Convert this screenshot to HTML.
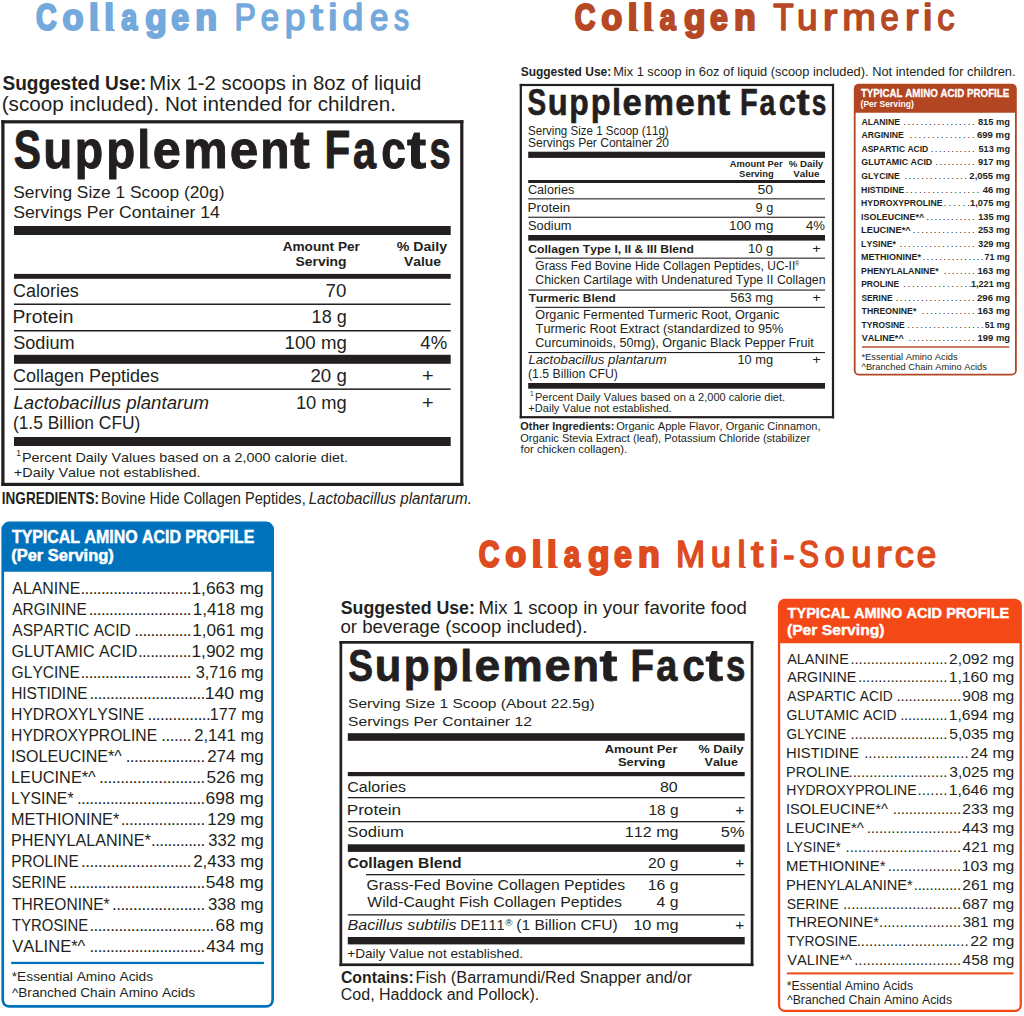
<!DOCTYPE html>
<html><head><meta charset="utf-8"><title>Collagen Supplement Facts</title>
<style>
html,body{margin:0;padding:0;background:#fff;}
body{width:1024px;height:1016px;overflow:hidden;}
svg{display:block;font-family:"Liberation Sans",sans-serif;font-kerning:none;}
</style></head><body>
<svg width="1024" height="1016" viewBox="0 0 1024 1016" fill="#231f20">
<text x="35.93" y="30.10" font-size="36.50" textLength="20.66" lengthAdjust="spacingAndGlyphs" fill="#74a9dc" stroke="#74a9dc" stroke-width="2.20" stroke-linejoin="round" font-weight="bold">C</text>
<text x="62.46" y="30.10" font-size="36.50" textLength="20.98" lengthAdjust="spacingAndGlyphs" fill="#74a9dc" stroke="#74a9dc" stroke-width="2.20" stroke-linejoin="round" font-weight="bold">o</text>
<text x="89.06" y="30.10" font-size="36.50" textLength="9.72" lengthAdjust="spacingAndGlyphs" fill="#74a9dc" stroke="#74a9dc" stroke-width="2.20" stroke-linejoin="round" font-weight="bold">l</text>
<text x="104.36" y="30.10" font-size="36.50" textLength="9.72" lengthAdjust="spacingAndGlyphs" fill="#74a9dc" stroke="#74a9dc" stroke-width="2.20" stroke-linejoin="round" font-weight="bold">l</text>
<text x="121.16" y="30.10" font-size="36.50" textLength="15.96" lengthAdjust="spacingAndGlyphs" fill="#74a9dc" stroke="#74a9dc" stroke-width="2.20" stroke-linejoin="round" font-weight="bold">a</text>
<text x="145.26" y="30.10" font-size="36.50" textLength="21.50" lengthAdjust="spacingAndGlyphs" fill="#74a9dc" stroke="#74a9dc" stroke-width="2.20" stroke-linejoin="round" font-weight="bold">g</text>
<text x="171.25" y="30.10" font-size="36.50" textLength="17.85" lengthAdjust="spacingAndGlyphs" fill="#74a9dc" stroke="#74a9dc" stroke-width="2.20" stroke-linejoin="round" font-weight="bold">e</text>
<text x="195.35" y="30.10" font-size="36.50" textLength="21.76" lengthAdjust="spacingAndGlyphs" fill="#74a9dc" stroke="#74a9dc" stroke-width="2.20" stroke-linejoin="round" font-weight="bold">n</text>
<path d="M96.80 26.50 Q97.40 29.88 99.80 29.65 L99.80 31.00 L96.80 31.00 Z" fill="#74a9dc"/>
<path d="M112.10 26.50 Q112.70 29.88 115.00 29.65 L115.00 31.00 L112.10 31.00 Z" fill="#74a9dc"/>
<text x="234.48" y="30.10" font-size="37.40" textLength="21.30" lengthAdjust="spacingAndGlyphs" fill="#74a9dc" stroke="#74a9dc" stroke-width="1.60" stroke-linejoin="round">P</text>
<text x="260.71" y="30.10" font-size="37.40" textLength="18.25" lengthAdjust="spacingAndGlyphs" fill="#74a9dc" stroke="#74a9dc" stroke-width="1.60" stroke-linejoin="round">e</text>
<text x="284.81" y="30.10" font-size="37.40" textLength="20.65" lengthAdjust="spacingAndGlyphs" fill="#74a9dc" stroke="#74a9dc" stroke-width="1.60" stroke-linejoin="round">p</text>
<text x="310.42" y="30.10" font-size="37.40" textLength="12.40" lengthAdjust="spacingAndGlyphs" fill="#74a9dc" stroke="#74a9dc" stroke-width="1.60" stroke-linejoin="round">t</text>
<text x="328.01" y="30.10" font-size="37.40" textLength="9.61" lengthAdjust="spacingAndGlyphs" fill="#74a9dc" stroke="#74a9dc" stroke-width="1.60" stroke-linejoin="round">i</text>
<text x="342.53" y="30.10" font-size="37.40" textLength="20.78" lengthAdjust="spacingAndGlyphs" fill="#74a9dc" stroke="#74a9dc" stroke-width="1.60" stroke-linejoin="round">d</text>
<text x="370.10" y="30.10" font-size="37.40" textLength="18.37" lengthAdjust="spacingAndGlyphs" fill="#74a9dc" stroke="#74a9dc" stroke-width="1.60" stroke-linejoin="round">e</text>
<text x="394.06" y="30.10" font-size="37.40" textLength="15.02" lengthAdjust="spacingAndGlyphs" fill="#74a9dc" stroke="#74a9dc" stroke-width="1.60" stroke-linejoin="round">s</text>
<text x="2.45" y="89.50" font-size="19.30" textLength="143.88" lengthAdjust="spacingAndGlyphs" font-weight="bold">Suggested Use:</text>
<text x="149.33" y="89.50" font-size="19.30" textLength="271.97" lengthAdjust="spacingAndGlyphs">Mix 1-2 scoops in 8oz of liquid</text>
<text x="1.72" y="111.00" font-size="19.30" textLength="394.17" lengthAdjust="spacingAndGlyphs">(scoop included). Not intended for children.</text>
<rect x="1.30" y="120.20" width="462.10" height="3.20" fill="#231f20"/>
<rect x="1.30" y="482.80" width="462.10" height="3.20" fill="#231f20"/>
<rect x="1.30" y="120.20" width="3.20" height="365.80" fill="#231f20"/>
<rect x="460.20" y="120.20" width="3.20" height="365.80" fill="#231f20"/>
<path d="M146.80 164.40 Q147.40 167.40 150.30 167.20 L150.30 168.40 L146.80 168.40 Z" fill="#231f20"/>
<text x="13.73" y="168.00" font-size="53.00" textLength="27.16" lengthAdjust="spacingAndGlyphs" fill="#231f20" stroke="#231f20" stroke-width="1.00" stroke-linejoin="round" font-weight="bold">S</text>
<text x="43.15" y="168.00" font-size="53.00" textLength="29.09" lengthAdjust="spacingAndGlyphs" fill="#231f20" stroke="#231f20" stroke-width="1.00" stroke-linejoin="round" font-weight="bold">u</text>
<text x="74.84" y="168.00" font-size="53.00" textLength="28.37" lengthAdjust="spacingAndGlyphs" fill="#231f20" stroke="#231f20" stroke-width="1.00" stroke-linejoin="round" font-weight="bold">p</text>
<text x="106.17" y="168.00" font-size="53.00" textLength="28.97" lengthAdjust="spacingAndGlyphs" fill="#231f20" stroke="#231f20" stroke-width="1.00" stroke-linejoin="round" font-weight="bold">p</text>
<text x="137.24" y="168.00" font-size="53.00" textLength="12.96" lengthAdjust="spacingAndGlyphs" fill="#231f20" stroke="#231f20" stroke-width="1.00" stroke-linejoin="round" font-weight="bold">l</text>
<text x="152.73" y="168.00" font-size="53.00" textLength="28.10" lengthAdjust="spacingAndGlyphs" fill="#231f20" stroke="#231f20" stroke-width="1.00" stroke-linejoin="round" font-weight="bold">e</text>
<text x="183.26" y="168.00" font-size="53.00" textLength="44.44" lengthAdjust="spacingAndGlyphs" fill="#231f20" stroke="#231f20" stroke-width="1.00" stroke-linejoin="round" font-weight="bold">m</text>
<text x="229.79" y="168.00" font-size="53.00" textLength="28.56" lengthAdjust="spacingAndGlyphs" fill="#231f20" stroke="#231f20" stroke-width="1.00" stroke-linejoin="round" font-weight="bold">e</text>
<text x="260.33" y="168.00" font-size="53.00" textLength="29.35" lengthAdjust="spacingAndGlyphs" fill="#231f20" stroke="#231f20" stroke-width="1.00" stroke-linejoin="round" font-weight="bold">n</text>
<text x="290.38" y="168.00" font-size="53.00" textLength="19.53" lengthAdjust="spacingAndGlyphs" fill="#231f20" stroke="#231f20" stroke-width="1.00" stroke-linejoin="round" font-weight="bold">t</text>
<text x="324.48" y="168.00" font-size="53.00" textLength="25.77" lengthAdjust="spacingAndGlyphs" fill="#231f20" stroke="#231f20" stroke-width="1.00" stroke-linejoin="round" font-weight="bold">F</text>
<text x="352.89" y="168.00" font-size="53.00" textLength="23.05" lengthAdjust="spacingAndGlyphs" fill="#231f20" stroke="#231f20" stroke-width="1.00" stroke-linejoin="round" font-weight="bold">a</text>
<text x="381.37" y="168.00" font-size="53.00" textLength="24.63" lengthAdjust="spacingAndGlyphs" fill="#231f20" stroke="#231f20" stroke-width="1.00" stroke-linejoin="round" font-weight="bold">c</text>
<text x="407.10" y="168.00" font-size="53.00" textLength="19.21" lengthAdjust="spacingAndGlyphs" fill="#231f20" stroke="#231f20" stroke-width="1.00" stroke-linejoin="round" font-weight="bold">t</text>
<text x="429.56" y="168.00" font-size="53.00" textLength="21.20" lengthAdjust="spacingAndGlyphs" fill="#231f20" stroke="#231f20" stroke-width="1.00" stroke-linejoin="round" font-weight="bold">s</text>
<text x="13.21" y="198.30" font-size="17.00" textLength="211.26" lengthAdjust="spacingAndGlyphs">Serving Size 1 Scoop (20g)</text>
<text x="13.20" y="217.80" font-size="17.00" textLength="206.72" lengthAdjust="spacingAndGlyphs">Servings Per Container 14</text>
<rect x="14.00" y="226.00" width="436.70" height="9.00" fill="#231f20"/>
<text x="282.66" y="251.00" font-size="13.40" textLength="77.25" lengthAdjust="spacingAndGlyphs" font-weight="bold">Amount Per</text>
<text x="295.60" y="266.00" font-size="13.40" textLength="50.93" lengthAdjust="spacingAndGlyphs" font-weight="bold">Serving</text>
<text x="396.65" y="251.00" font-size="13.40" textLength="50.43" lengthAdjust="spacingAndGlyphs" font-weight="bold">% Daily</text>
<text x="403.90" y="266.00" font-size="13.40" textLength="37.17" lengthAdjust="spacingAndGlyphs" font-weight="bold">Value</text>
<rect x="14.00" y="273.90" width="436.70" height="4.90" fill="#231f20"/>
<text x="13.09" y="297.00" font-size="18.00" textLength="65.76" lengthAdjust="spacingAndGlyphs">Calories</text>
<text x="325.54" y="297.00" font-size="18.00" textLength="20.79" lengthAdjust="spacingAndGlyphs">70</text>
<rect x="14.00" y="303.50" width="436.70" height="1.50" fill="#231f20"/>
<text x="12.42" y="322.90" font-size="18.00" textLength="61.14" lengthAdjust="spacingAndGlyphs">Protein</text>
<text x="311.62" y="322.90" font-size="18.00" textLength="35.14" lengthAdjust="spacingAndGlyphs">18 g</text>
<rect x="14.00" y="330.00" width="436.70" height="1.50" fill="#231f20"/>
<text x="13.18" y="348.60" font-size="18.00" textLength="61.42" lengthAdjust="spacingAndGlyphs">Sodium</text>
<text x="284.58" y="348.60" font-size="18.00" textLength="62.22" lengthAdjust="spacingAndGlyphs">100 mg</text>
<text x="420.37" y="348.60" font-size="18.00" textLength="26.89" lengthAdjust="spacingAndGlyphs">4%</text>
<rect x="14.00" y="354.80" width="436.70" height="9.00" fill="#231f20"/>
<text x="13.09" y="381.70" font-size="18.00" textLength="145.96" lengthAdjust="spacingAndGlyphs">Collagen Peptides</text>
<text x="310.46" y="381.70" font-size="18.00" textLength="36.34" lengthAdjust="spacingAndGlyphs">20 g</text>
<text x="422.03" y="381.70" font-size="18.00" textLength="11.66" lengthAdjust="spacingAndGlyphs">+</text>
<rect x="14.00" y="388.40" width="436.70" height="1.50" fill="#231f20"/>
<text x="13.43" y="408.50" font-size="18.00" textLength="195.64" lengthAdjust="spacingAndGlyphs" font-style="italic">Lactobacillus plantarum</text>
<text x="295.91" y="408.50" font-size="18.00" textLength="50.87" lengthAdjust="spacingAndGlyphs">10 mg</text>
<text x="422.03" y="408.50" font-size="18.00" textLength="11.66" lengthAdjust="spacingAndGlyphs">+</text>
<text x="12.92" y="429.00" font-size="18.00" textLength="127.46" lengthAdjust="spacingAndGlyphs">(1.5 Billion CFU)</text>
<rect x="14.00" y="437.00" width="436.70" height="9.00" fill="#231f20"/>
<text x="16.15" y="456.00" font-size="8.50" textLength="4.73" lengthAdjust="spacingAndGlyphs">1</text>
<text x="21.92" y="461.70" font-size="13.10" textLength="326.09" lengthAdjust="spacingAndGlyphs">Percent Daily Values based on a 2,000 calorie diet.</text>
<text x="13.89" y="476.50" font-size="13.10" textLength="186.62" lengthAdjust="spacingAndGlyphs">+Daily Value not established.</text>
<text x="1.79" y="504.20" font-size="16.30" textLength="97.21" lengthAdjust="spacingAndGlyphs" font-weight="bold">INGREDIENTS:</text>
<text x="101.01" y="504.20" font-size="16.30" textLength="204.70" lengthAdjust="spacingAndGlyphs">Bovine Hide Collagen Peptides,</text>
<text x="308.63" y="504.20" font-size="16.30" textLength="163.22" lengthAdjust="spacingAndGlyphs" font-style="italic">Lactobacillus plantarum.</text>
<text x="574.63" y="30.40" font-size="36.50" textLength="20.66" lengthAdjust="spacingAndGlyphs" fill="#b64826" stroke="#b64826" stroke-width="2.20" stroke-linejoin="round" font-weight="bold">C</text>
<text x="601.16" y="30.40" font-size="36.50" textLength="20.98" lengthAdjust="spacingAndGlyphs" fill="#b64826" stroke="#b64826" stroke-width="2.20" stroke-linejoin="round" font-weight="bold">o</text>
<text x="627.76" y="30.40" font-size="36.50" textLength="9.72" lengthAdjust="spacingAndGlyphs" fill="#b64826" stroke="#b64826" stroke-width="2.20" stroke-linejoin="round" font-weight="bold">l</text>
<text x="643.06" y="30.40" font-size="36.50" textLength="9.72" lengthAdjust="spacingAndGlyphs" fill="#b64826" stroke="#b64826" stroke-width="2.20" stroke-linejoin="round" font-weight="bold">l</text>
<text x="659.86" y="30.40" font-size="36.50" textLength="15.96" lengthAdjust="spacingAndGlyphs" fill="#b64826" stroke="#b64826" stroke-width="2.20" stroke-linejoin="round" font-weight="bold">a</text>
<text x="683.96" y="30.40" font-size="36.50" textLength="21.50" lengthAdjust="spacingAndGlyphs" fill="#b64826" stroke="#b64826" stroke-width="2.20" stroke-linejoin="round" font-weight="bold">g</text>
<text x="709.95" y="30.40" font-size="36.50" textLength="17.85" lengthAdjust="spacingAndGlyphs" fill="#b64826" stroke="#b64826" stroke-width="2.20" stroke-linejoin="round" font-weight="bold">e</text>
<text x="734.05" y="30.40" font-size="36.50" textLength="21.76" lengthAdjust="spacingAndGlyphs" fill="#b64826" stroke="#b64826" stroke-width="2.20" stroke-linejoin="round" font-weight="bold">n</text>
<path d="M635.50 26.80 Q636.10 30.18 638.50 29.95 L638.50 31.30 L635.50 31.30 Z" fill="#b64826"/>
<path d="M650.80 26.80 Q651.40 30.18 653.70 29.95 L653.70 31.30 L650.80 31.30 Z" fill="#b64826"/>
<text x="773.35" y="30.40" font-size="37.40" textLength="20.42" lengthAdjust="spacingAndGlyphs" fill="#b64826" stroke="#b64826" stroke-width="1.60" stroke-linejoin="round">T</text>
<text x="797.10" y="30.40" font-size="37.40" textLength="20.55" lengthAdjust="spacingAndGlyphs" fill="#b64826" stroke="#b64826" stroke-width="1.60" stroke-linejoin="round">u</text>
<text x="822.70" y="30.40" font-size="37.40" textLength="14.52" lengthAdjust="spacingAndGlyphs" fill="#b64826" stroke="#b64826" stroke-width="1.60" stroke-linejoin="round">r</text>
<text x="842.22" y="30.40" font-size="37.40" textLength="33.64" lengthAdjust="spacingAndGlyphs" fill="#b64826" stroke="#b64826" stroke-width="1.60" stroke-linejoin="round">m</text>
<text x="880.41" y="30.40" font-size="37.40" textLength="18.25" lengthAdjust="spacingAndGlyphs" fill="#b64826" stroke="#b64826" stroke-width="1.60" stroke-linejoin="round">e</text>
<text x="904.92" y="30.40" font-size="37.40" textLength="13.45" lengthAdjust="spacingAndGlyphs" fill="#b64826" stroke="#b64826" stroke-width="1.60" stroke-linejoin="round">r</text>
<text x="922.83" y="30.40" font-size="37.40" textLength="9.86" lengthAdjust="spacingAndGlyphs" fill="#b64826" stroke="#b64826" stroke-width="1.60" stroke-linejoin="round">i</text>
<text x="937.24" y="30.40" font-size="37.40" textLength="17.16" lengthAdjust="spacingAndGlyphs" fill="#b64826" stroke="#b64826" stroke-width="1.60" stroke-linejoin="round">c</text>
<text x="520.65" y="75.70" font-size="12.40" textLength="90.60" lengthAdjust="spacingAndGlyphs" font-weight="bold">Suggested Use:</text>
<text x="613.15" y="75.70" font-size="12.40" textLength="402.43" lengthAdjust="spacingAndGlyphs">Mix 1 scoop in 6oz of liquid (scoop included). Not intended for children.</text>
<rect x="519.70" y="83.90" width="314.40" height="2.20" fill="#231f20"/>
<rect x="519.70" y="416.10" width="314.40" height="2.20" fill="#231f20"/>
<rect x="519.70" y="83.90" width="2.20" height="334.40" fill="#231f20"/>
<rect x="831.90" y="83.90" width="2.20" height="334.40" fill="#231f20"/>
<path d="M618.40 112.62 Q619.00 114.67 620.98 114.53 L620.98 115.35 L618.40 115.35 Z" fill="#231f20"/>
<text x="527.59" y="114.95" font-size="36.00" textLength="18.66" lengthAdjust="spacingAndGlyphs" fill="#231f20" stroke="#231f20" stroke-width="0.60" stroke-linejoin="round" font-weight="bold">S</text>
<text x="547.69" y="114.95" font-size="36.00" textLength="19.99" lengthAdjust="spacingAndGlyphs" fill="#231f20" stroke="#231f20" stroke-width="0.60" stroke-linejoin="round" font-weight="bold">u</text>
<text x="569.35" y="114.95" font-size="36.00" textLength="19.49" lengthAdjust="spacingAndGlyphs" fill="#231f20" stroke="#231f20" stroke-width="0.60" stroke-linejoin="round" font-weight="bold">p</text>
<text x="590.77" y="114.95" font-size="36.00" textLength="19.90" lengthAdjust="spacingAndGlyphs" fill="#231f20" stroke="#231f20" stroke-width="0.60" stroke-linejoin="round" font-weight="bold">p</text>
<text x="611.97" y="114.95" font-size="36.00" textLength="9.03" lengthAdjust="spacingAndGlyphs" fill="#231f20" stroke="#231f20" stroke-width="0.60" stroke-linejoin="round" font-weight="bold">l</text>
<text x="622.59" y="114.95" font-size="36.00" textLength="19.30" lengthAdjust="spacingAndGlyphs" fill="#231f20" stroke="#231f20" stroke-width="0.60" stroke-linejoin="round" font-weight="bold">e</text>
<text x="643.45" y="114.95" font-size="36.00" textLength="30.47" lengthAdjust="spacingAndGlyphs" fill="#231f20" stroke="#231f20" stroke-width="0.60" stroke-linejoin="round" font-weight="bold">m</text>
<text x="675.26" y="114.95" font-size="36.00" textLength="19.62" lengthAdjust="spacingAndGlyphs" fill="#231f20" stroke="#231f20" stroke-width="0.60" stroke-linejoin="round" font-weight="bold">e</text>
<text x="696.13" y="114.95" font-size="36.00" textLength="20.16" lengthAdjust="spacingAndGlyphs" fill="#231f20" stroke="#231f20" stroke-width="0.60" stroke-linejoin="round" font-weight="bold">n</text>
<text x="716.67" y="114.95" font-size="36.00" textLength="13.44" lengthAdjust="spacingAndGlyphs" fill="#231f20" stroke="#231f20" stroke-width="0.60" stroke-linejoin="round" font-weight="bold">t</text>
<text x="739.97" y="114.95" font-size="36.00" textLength="17.71" lengthAdjust="spacingAndGlyphs" fill="#231f20" stroke="#231f20" stroke-width="0.60" stroke-linejoin="round" font-weight="bold">F</text>
<text x="759.39" y="114.95" font-size="36.00" textLength="15.84" lengthAdjust="spacingAndGlyphs" fill="#231f20" stroke="#231f20" stroke-width="0.60" stroke-linejoin="round" font-weight="bold">a</text>
<text x="778.85" y="114.95" font-size="36.00" textLength="16.93" lengthAdjust="spacingAndGlyphs" fill="#231f20" stroke="#231f20" stroke-width="0.60" stroke-linejoin="round" font-weight="bold">c</text>
<text x="796.44" y="114.95" font-size="36.00" textLength="13.22" lengthAdjust="spacingAndGlyphs" fill="#231f20" stroke="#231f20" stroke-width="0.60" stroke-linejoin="round" font-weight="bold">t</text>
<text x="811.79" y="114.95" font-size="36.00" textLength="14.59" lengthAdjust="spacingAndGlyphs" fill="#231f20" stroke="#231f20" stroke-width="0.60" stroke-linejoin="round" font-weight="bold">s</text>
<text x="528.08" y="135.10" font-size="12.00" textLength="140.64" lengthAdjust="spacingAndGlyphs">Serving Size 1 Scoop (11g)</text>
<text x="528.05" y="147.10" font-size="12.00" textLength="141.02" lengthAdjust="spacingAndGlyphs">Servings Per Container 20</text>
<rect x="528.20" y="151.70" width="296.80" height="6.20" fill="#231f20"/>
<text x="729.87" y="166.80" font-size="9.00" textLength="52.67" lengthAdjust="spacingAndGlyphs" font-weight="bold">Amount Per</text>
<text x="739.13" y="176.60" font-size="9.00" textLength="34.50" lengthAdjust="spacingAndGlyphs" font-weight="bold">Serving</text>
<text x="788.76" y="166.80" font-size="9.00" textLength="34.49" lengthAdjust="spacingAndGlyphs" font-weight="bold">% Daily</text>
<text x="793.33" y="176.60" font-size="9.00" textLength="26.10" lengthAdjust="spacingAndGlyphs" font-weight="bold">Value</text>
<rect x="528.20" y="180.00" width="296.80" height="3.00" fill="#231f20"/>
<text x="527.96" y="194.40" font-size="12.00" textLength="46.30" lengthAdjust="spacingAndGlyphs">Calories</text>
<text x="757.44" y="194.40" font-size="12.00" textLength="15.61" lengthAdjust="spacingAndGlyphs">50</text>
<rect x="528.20" y="198.30" width="296.80" height="1.10" fill="#231f20"/>
<text x="527.49" y="211.80" font-size="12.00" textLength="42.78" lengthAdjust="spacingAndGlyphs">Protein</text>
<text x="755.60" y="211.80" font-size="12.00" textLength="17.72" lengthAdjust="spacingAndGlyphs">9 g</text>
<rect x="528.20" y="216.70" width="296.80" height="1.10" fill="#231f20"/>
<text x="528.02" y="229.50" font-size="12.00" textLength="43.43" lengthAdjust="spacingAndGlyphs">Sodium</text>
<text x="728.99" y="229.50" font-size="12.00" textLength="44.37" lengthAdjust="spacingAndGlyphs">100 mg</text>
<text x="805.90" y="229.50" font-size="12.00" textLength="18.97" lengthAdjust="spacingAndGlyphs">4%</text>
<rect x="528.20" y="235.00" width="296.80" height="5.60" fill="#231f20"/>
<text x="528.30" y="252.70" font-size="11.50" textLength="165.49" lengthAdjust="spacingAndGlyphs" font-weight="bold">Collagen Type I, II &amp; III Blend</text>
<text x="748.01" y="252.70" font-size="12.00" textLength="25.33" lengthAdjust="spacingAndGlyphs">10 g</text>
<text x="812.19" y="252.70" font-size="12.00" textLength="8.53" lengthAdjust="spacingAndGlyphs">+</text>
<rect x="535.40" y="257.60" width="289.60" height="1.10" fill="#231f20"/>
<text x="535.30" y="270.40" font-size="12.00" textLength="260.01" lengthAdjust="spacingAndGlyphs">Grass Fed Bovine Hide Collagen Peptides, UC-II</text>
<text x="795.11" y="266.00" font-size="7.00" textLength="4.28" lengthAdjust="spacingAndGlyphs">®</text>
<text x="535.27" y="284.10" font-size="12.00" textLength="290.23" lengthAdjust="spacingAndGlyphs">Chicken Cartilage with Undenatured Type II Collagen</text>
<rect x="528.20" y="289.50" width="296.80" height="1.10" fill="#231f20"/>
<text x="528.67" y="301.80" font-size="11.50" textLength="87.22" lengthAdjust="spacingAndGlyphs" font-weight="bold">Turmeric Blend</text>
<text x="730.29" y="301.80" font-size="12.00" textLength="42.84" lengthAdjust="spacingAndGlyphs">563 mg</text>
<text x="812.19" y="301.80" font-size="12.00" textLength="8.53" lengthAdjust="spacingAndGlyphs">+</text>
<rect x="535.40" y="306.80" width="289.60" height="1.10" fill="#231f20"/>
<text x="535.30" y="319.20" font-size="12.00" textLength="244.03" lengthAdjust="spacingAndGlyphs">Organic Fermented Turmeric Root, Organic</text>
<text x="535.61" y="333.00" font-size="12.00" textLength="247.84" lengthAdjust="spacingAndGlyphs">Turmeric Root Extract (standardized to 95%</text>
<text x="535.26" y="347.00" font-size="12.00" textLength="278.63" lengthAdjust="spacingAndGlyphs">Curcuminoids, 50mg), Organic Black Pepper Fruit</text>
<rect x="528.20" y="352.00" width="296.80" height="1.10" fill="#231f20"/>
<text x="528.40" y="364.30" font-size="12.00" textLength="138.21" lengthAdjust="spacingAndGlyphs" font-style="italic">Lactobacillus plantarum</text>
<text x="737.42" y="364.30" font-size="12.00" textLength="35.71" lengthAdjust="spacingAndGlyphs">10 mg</text>
<text x="812.19" y="364.30" font-size="12.00" textLength="8.53" lengthAdjust="spacingAndGlyphs">+</text>
<text x="528.04" y="378.00" font-size="12.00" textLength="89.92" lengthAdjust="spacingAndGlyphs">(1.5 Billion CFU)</text>
<rect x="528.20" y="383.00" width="296.80" height="5.70" fill="#231f20"/>
<text x="530.10" y="396.00" font-size="6.50" textLength="3.61" lengthAdjust="spacingAndGlyphs">1</text>
<text x="535.00" y="400.60" font-size="10.50" textLength="250.11" lengthAdjust="spacingAndGlyphs">Percent Daily Values based on a 2,000 calorie diet.</text>
<text x="528.26" y="412.20" font-size="10.50" textLength="143.46" lengthAdjust="spacingAndGlyphs">+Daily Value not established.</text>
<text x="520.36" y="430.30" font-size="11.00" textLength="93.99" lengthAdjust="spacingAndGlyphs" font-weight="bold">Other Ingredients:</text>
<text x="616.28" y="430.30" font-size="11.00" textLength="204.21" lengthAdjust="spacingAndGlyphs">Organic Apple Flavor, Organic Cinnamon,</text>
<text x="520.28" y="441.60" font-size="11.00" textLength="289.81" lengthAdjust="spacingAndGlyphs">Organic Stevia Extract (leaf), Potassium Chloride (stabilizer</text>
<text x="520.64" y="453.00" font-size="11.00" textLength="106.59" lengthAdjust="spacingAndGlyphs">for chicken collagen).</text>
<text x="478.68" y="567.20" font-size="36.50" textLength="20.66" lengthAdjust="spacingAndGlyphs" fill="#de4b1e" stroke="#de4b1e" stroke-width="2.20" stroke-linejoin="round" font-weight="bold">C</text>
<text x="505.21" y="567.20" font-size="36.50" textLength="20.98" lengthAdjust="spacingAndGlyphs" fill="#de4b1e" stroke="#de4b1e" stroke-width="2.20" stroke-linejoin="round" font-weight="bold">o</text>
<text x="531.81" y="567.20" font-size="36.50" textLength="9.72" lengthAdjust="spacingAndGlyphs" fill="#de4b1e" stroke="#de4b1e" stroke-width="2.20" stroke-linejoin="round" font-weight="bold">l</text>
<text x="547.11" y="567.20" font-size="36.50" textLength="9.72" lengthAdjust="spacingAndGlyphs" fill="#de4b1e" stroke="#de4b1e" stroke-width="2.20" stroke-linejoin="round" font-weight="bold">l</text>
<text x="563.91" y="567.20" font-size="36.50" textLength="15.96" lengthAdjust="spacingAndGlyphs" fill="#de4b1e" stroke="#de4b1e" stroke-width="2.20" stroke-linejoin="round" font-weight="bold">a</text>
<text x="588.01" y="567.20" font-size="36.50" textLength="21.50" lengthAdjust="spacingAndGlyphs" fill="#de4b1e" stroke="#de4b1e" stroke-width="2.20" stroke-linejoin="round" font-weight="bold">g</text>
<text x="614.00" y="567.20" font-size="36.50" textLength="17.85" lengthAdjust="spacingAndGlyphs" fill="#de4b1e" stroke="#de4b1e" stroke-width="2.20" stroke-linejoin="round" font-weight="bold">e</text>
<text x="638.10" y="567.20" font-size="36.50" textLength="21.76" lengthAdjust="spacingAndGlyphs" fill="#de4b1e" stroke="#de4b1e" stroke-width="2.20" stroke-linejoin="round" font-weight="bold">n</text>
<path d="M539.55 563.60 Q540.15 566.98 542.55 566.75 L542.55 568.10 L539.55 568.10 Z" fill="#de4b1e"/>
<path d="M554.85 563.60 Q555.45 566.98 557.75 566.75 L557.75 568.10 L554.85 568.10 Z" fill="#de4b1e"/>
<text x="675.93" y="567.20" font-size="37.40" textLength="29.14" lengthAdjust="spacingAndGlyphs" fill="#de4b1e" stroke="#de4b1e" stroke-width="1.60" stroke-linejoin="round">M</text>
<text x="710.65" y="567.20" font-size="37.40" textLength="20.16" lengthAdjust="spacingAndGlyphs" fill="#de4b1e" stroke="#de4b1e" stroke-width="1.60" stroke-linejoin="round">u</text>
<text x="737.45" y="567.20" font-size="37.40" textLength="8.09" lengthAdjust="spacingAndGlyphs" fill="#de4b1e" stroke="#de4b1e" stroke-width="1.60" stroke-linejoin="round">l</text>
<text x="751.03" y="567.20" font-size="37.40" textLength="12.29" lengthAdjust="spacingAndGlyphs" fill="#de4b1e" stroke="#de4b1e" stroke-width="1.60" stroke-linejoin="round">t</text>
<text x="769.46" y="567.20" font-size="37.40" textLength="9.10" lengthAdjust="spacingAndGlyphs" fill="#de4b1e" stroke="#de4b1e" stroke-width="1.60" stroke-linejoin="round">i</text>
<text x="783.20" y="567.20" font-size="37.40" textLength="11.25" lengthAdjust="spacingAndGlyphs" fill="#de4b1e" stroke="#de4b1e" stroke-width="1.60" stroke-linejoin="round">-</text>
<text x="798.94" y="567.20" font-size="37.40" textLength="19.93" lengthAdjust="spacingAndGlyphs" fill="#de4b1e" stroke="#de4b1e" stroke-width="1.60" stroke-linejoin="round">S</text>
<text x="824.58" y="567.20" font-size="37.40" textLength="20.14" lengthAdjust="spacingAndGlyphs" fill="#de4b1e" stroke="#de4b1e" stroke-width="1.60" stroke-linejoin="round">o</text>
<text x="851.13" y="567.20" font-size="37.40" textLength="20.29" lengthAdjust="spacingAndGlyphs" fill="#de4b1e" stroke="#de4b1e" stroke-width="1.60" stroke-linejoin="round">u</text>
<text x="876.09" y="567.20" font-size="37.40" textLength="15.58" lengthAdjust="spacingAndGlyphs" fill="#de4b1e" stroke="#de4b1e" stroke-width="1.60" stroke-linejoin="round">r</text>
<text x="894.78" y="567.20" font-size="37.40" textLength="19.02" lengthAdjust="spacingAndGlyphs" fill="#de4b1e" stroke="#de4b1e" stroke-width="1.60" stroke-linejoin="round">c</text>
<text x="916.82" y="567.20" font-size="37.40" textLength="19.44" lengthAdjust="spacingAndGlyphs" fill="#de4b1e" stroke="#de4b1e" stroke-width="1.60" stroke-linejoin="round">e</text>
<path d="M743.00 564.50 Q743.60 567.12 746.00 566.95 L746.00 568.00 L743.00 568.00 Z" fill="#de4b1e"/>
<text x="340.69" y="613.50" font-size="18.00" textLength="134.22" lengthAdjust="spacingAndGlyphs" font-weight="bold">Suggested Use:</text>
<text x="478.47" y="613.50" font-size="18.00" textLength="268.48" lengthAdjust="spacingAndGlyphs">Mix 1 scoop in your favorite food</text>
<text x="340.42" y="633.00" font-size="18.00" textLength="246.99" lengthAdjust="spacingAndGlyphs">or beverage (scoop included).</text>
<rect x="339.50" y="641.00" width="413.90" height="2.70" fill="#231f20"/>
<rect x="339.50" y="963.40" width="413.90" height="2.70" fill="#231f20"/>
<rect x="339.50" y="641.00" width="2.70" height="325.10" fill="#231f20"/>
<rect x="750.70" y="641.00" width="2.70" height="325.10" fill="#231f20"/>
<path d="M469.04 677.87 Q469.64 680.59 472.27 680.41 L472.27 681.50 L469.04 681.50 Z" fill="#231f20"/>
<text x="348.13" y="681.10" font-size="44.20" textLength="24.80" lengthAdjust="spacingAndGlyphs" fill="#231f20" stroke="#231f20" stroke-width="0.80" stroke-linejoin="round" font-weight="bold">S</text>
<text x="374.85" y="681.10" font-size="44.20" textLength="26.57" lengthAdjust="spacingAndGlyphs" fill="#231f20" stroke="#231f20" stroke-width="0.80" stroke-linejoin="round" font-weight="bold">u</text>
<text x="403.64" y="681.10" font-size="44.20" textLength="25.90" lengthAdjust="spacingAndGlyphs" fill="#231f20" stroke="#231f20" stroke-width="0.80" stroke-linejoin="round" font-weight="bold">p</text>
<text x="432.11" y="681.10" font-size="44.20" textLength="26.45" lengthAdjust="spacingAndGlyphs" fill="#231f20" stroke="#231f20" stroke-width="0.80" stroke-linejoin="round" font-weight="bold">p</text>
<text x="460.30" y="681.10" font-size="44.20" textLength="11.99" lengthAdjust="spacingAndGlyphs" fill="#231f20" stroke="#231f20" stroke-width="0.80" stroke-linejoin="round" font-weight="bold">l</text>
<text x="474.42" y="681.10" font-size="44.20" textLength="25.66" lengthAdjust="spacingAndGlyphs" fill="#231f20" stroke="#231f20" stroke-width="0.80" stroke-linejoin="round" font-weight="bold">e</text>
<text x="502.15" y="681.10" font-size="44.20" textLength="40.51" lengthAdjust="spacingAndGlyphs" fill="#231f20" stroke="#231f20" stroke-width="0.80" stroke-linejoin="round" font-weight="bold">m</text>
<text x="544.44" y="681.10" font-size="44.20" textLength="26.08" lengthAdjust="spacingAndGlyphs" fill="#231f20" stroke="#231f20" stroke-width="0.80" stroke-linejoin="round" font-weight="bold">e</text>
<text x="572.18" y="681.10" font-size="44.20" textLength="26.80" lengthAdjust="spacingAndGlyphs" fill="#231f20" stroke="#231f20" stroke-width="0.80" stroke-linejoin="round" font-weight="bold">n</text>
<text x="599.49" y="681.10" font-size="44.20" textLength="17.86" lengthAdjust="spacingAndGlyphs" fill="#231f20" stroke="#231f20" stroke-width="0.80" stroke-linejoin="round" font-weight="bold">t</text>
<text x="630.46" y="681.10" font-size="44.20" textLength="23.54" lengthAdjust="spacingAndGlyphs" fill="#231f20" stroke="#231f20" stroke-width="0.80" stroke-linejoin="round" font-weight="bold">F</text>
<text x="656.28" y="681.10" font-size="44.20" textLength="21.06" lengthAdjust="spacingAndGlyphs" fill="#231f20" stroke="#231f20" stroke-width="0.80" stroke-linejoin="round" font-weight="bold">a</text>
<text x="682.15" y="681.10" font-size="44.20" textLength="22.50" lengthAdjust="spacingAndGlyphs" fill="#231f20" stroke="#231f20" stroke-width="0.80" stroke-linejoin="round" font-weight="bold">c</text>
<text x="705.53" y="681.10" font-size="44.20" textLength="17.57" lengthAdjust="spacingAndGlyphs" fill="#231f20" stroke="#231f20" stroke-width="0.80" stroke-linejoin="round" font-weight="bold">t</text>
<text x="725.94" y="681.10" font-size="44.20" textLength="19.39" lengthAdjust="spacingAndGlyphs" fill="#231f20" stroke="#231f20" stroke-width="0.80" stroke-linejoin="round" font-weight="bold">s</text>
<text x="348.10" y="708.40" font-size="13.70" textLength="246.67" lengthAdjust="spacingAndGlyphs">Serving Size 1 Scoop (About 22.5g)</text>
<text x="348.09" y="725.50" font-size="13.70" textLength="183.80" lengthAdjust="spacingAndGlyphs">Servings Per Container 12</text>
<rect x="347.80" y="733.20" width="396.90" height="7.60" fill="#231f20"/>
<text x="604.68" y="752.90" font-size="11.60" textLength="72.81" lengthAdjust="spacingAndGlyphs" font-weight="bold">Amount Per</text>
<text x="617.93" y="766.20" font-size="11.60" textLength="47.54" lengthAdjust="spacingAndGlyphs" font-weight="bold">Serving</text>
<text x="698.49" y="752.90" font-size="11.60" textLength="44.98" lengthAdjust="spacingAndGlyphs" font-weight="bold">% Daily</text>
<text x="704.51" y="766.20" font-size="11.60" textLength="33.52" lengthAdjust="spacingAndGlyphs" font-weight="bold">Value</text>
<rect x="347.80" y="772.00" width="396.90" height="4.20" fill="#231f20"/>
<text x="347.29" y="792.20" font-size="15.10" textLength="58.79" lengthAdjust="spacingAndGlyphs">Calories</text>
<text x="659.91" y="792.20" font-size="15.10" textLength="17.71" lengthAdjust="spacingAndGlyphs">80</text>
<rect x="347.80" y="797.00" width="396.90" height="1.30" fill="#231f20"/>
<text x="346.69" y="814.60" font-size="15.10" textLength="54.42" lengthAdjust="spacingAndGlyphs">Protein</text>
<text x="648.53" y="814.60" font-size="15.10" textLength="29.97" lengthAdjust="spacingAndGlyphs">18 g</text>
<text x="735.25" y="814.60" font-size="15.10" textLength="9.02" lengthAdjust="spacingAndGlyphs">+</text>
<rect x="347.80" y="821.00" width="396.90" height="1.30" fill="#231f20"/>
<text x="347.34" y="837.00" font-size="15.10" textLength="56.45" lengthAdjust="spacingAndGlyphs">Sodium</text>
<text x="624.87" y="837.00" font-size="15.10" textLength="53.66" lengthAdjust="spacingAndGlyphs">112 mg</text>
<text x="720.85" y="837.00" font-size="15.10" textLength="23.64" lengthAdjust="spacingAndGlyphs">5%</text>
<rect x="347.80" y="844.30" width="396.90" height="7.60" fill="#231f20"/>
<text x="347.46" y="867.50" font-size="15.10" textLength="114.18" lengthAdjust="spacingAndGlyphs" font-weight="bold">Collagen Blend</text>
<text x="648.11" y="867.50" font-size="15.10" textLength="30.39" lengthAdjust="spacingAndGlyphs">20 g</text>
<text x="735.25" y="867.50" font-size="15.10" textLength="9.02" lengthAdjust="spacingAndGlyphs">+</text>
<rect x="366.00" y="874.00" width="378.70" height="1.30" fill="#231f20"/>
<text x="366.61" y="890.10" font-size="15.10" textLength="258.56" lengthAdjust="spacingAndGlyphs">Grass-Fed Bovine Collagen Peptides</text>
<text x="647.80" y="890.10" font-size="15.10" textLength="30.72" lengthAdjust="spacingAndGlyphs">16 g</text>
<text x="367.33" y="906.80" font-size="15.10" textLength="254.64" lengthAdjust="spacingAndGlyphs">Wild-Caught Fish Collagen Peptides</text>
<text x="656.64" y="906.80" font-size="15.10" textLength="21.88" lengthAdjust="spacingAndGlyphs">4 g</text>
<rect x="347.80" y="914.20" width="396.90" height="1.30" fill="#231f20"/>
<text x="347.51" y="929.60" font-size="15.10" textLength="109.02" lengthAdjust="spacingAndGlyphs" font-style="italic">Bacillus subtilis</text>
<text x="460.21" y="929.60" font-size="15.10" textLength="44.30" lengthAdjust="spacingAndGlyphs">DE111</text>
<text x="505.35" y="925.50" font-size="8.50" textLength="7.30" lengthAdjust="spacingAndGlyphs">®</text>
<text x="516.23" y="929.60" font-size="15.10" textLength="101.54" lengthAdjust="spacingAndGlyphs">(1 Billion CFU)</text>
<text x="633.26" y="929.60" font-size="15.10" textLength="45.29" lengthAdjust="spacingAndGlyphs">10 mg</text>
<text x="735.25" y="929.60" font-size="15.10" textLength="9.02" lengthAdjust="spacingAndGlyphs">+</text>
<rect x="347.80" y="937.00" width="396.90" height="7.40" fill="#231f20"/>
<text x="347.24" y="957.60" font-size="13.00" textLength="175.81" lengthAdjust="spacingAndGlyphs">+Daily Value not established.</text>
<text x="340.95" y="982.60" font-size="16.00" textLength="72.87" lengthAdjust="spacingAndGlyphs" font-weight="bold">Contains:</text>
<text x="415.56" y="982.60" font-size="16.00" textLength="276.31" lengthAdjust="spacingAndGlyphs">Fish (Barramundi/Red Snapper and/or</text>
<text x="340.79" y="999.60" font-size="16.00" textLength="198.37" lengthAdjust="spacingAndGlyphs">Cod, Haddock and Pollock).</text>
<rect x="1.40" y="521.60" width="272.60" height="486.20" rx="8.00" fill="#0072bc"/>
<path d="M4.10 571.80 H271.30 V999.80 Q271.30 1005.10 266.00 1005.10 H9.40 Q4.10 1005.10 4.10 999.80 Z" fill="#fff"/>
<text x="11.92" y="543.20" font-size="18.00" textLength="242.40" lengthAdjust="spacingAndGlyphs" font-weight="bold" fill="#ffffff" stroke="#fff" stroke-width="0.5">TYPICAL AMINO ACID PROFILE</text>
<text x="11.18" y="561.20" font-size="16.00" textLength="102.64" lengthAdjust="spacingAndGlyphs" font-weight="bold" fill="#ffffff" stroke="#fff" stroke-width="0.5">(Per Serving)</text>
<text x="12.37" y="594.20" font-size="17.00" textLength="67.91" lengthAdjust="spacingAndGlyphs">ALANINE</text>
<text x="191.48" y="594.20" font-size="17.00" textLength="72.24" lengthAdjust="spacingAndGlyphs">1,663 mg</text>
<text x="80.45 84.54 88.63 92.72 96.81 100.91 105.00 109.09 113.18 117.27 121.36 125.46 129.55 133.64 137.73 141.82 145.91 150.00 154.10 158.19 162.28 166.37 170.46 174.55 178.65 182.74 186.83" y="594.20" font-size="17.00">...........................</text>
<text x="12.37" y="615.22" font-size="17.00" textLength="74.39" lengthAdjust="spacingAndGlyphs">ARGININE</text>
<text x="192.70" y="615.22" font-size="17.00" textLength="70.99" lengthAdjust="spacingAndGlyphs">1,418 mg</text>
<text x="88.65 92.74 96.83 100.92 105.01 109.10 113.19 117.28 121.37 125.47 129.56 133.65 137.74 141.83 145.92 150.01 154.10 158.19 162.28 166.37 170.47 174.56 178.65 182.74 186.83" y="615.22" font-size="17.00">.........................</text>
<text x="12.37" y="636.24" font-size="17.00" textLength="118.27" lengthAdjust="spacingAndGlyphs">ASPARTIC ACID</text>
<text x="192.30" y="636.24" font-size="17.00" textLength="71.41" lengthAdjust="spacingAndGlyphs">1,061 mg</text>
<text x="134.35 138.38 142.42 146.46 150.50 154.53 158.57 162.61 166.64 170.68 174.72 178.76 182.79 186.83" y="636.24" font-size="17.00">..............</text>
<text x="11.59" y="657.26" font-size="17.00" textLength="125.88" lengthAdjust="spacingAndGlyphs">GLUTAMIC ACID</text>
<text x="191.48" y="657.26" font-size="17.00" textLength="72.24" lengthAdjust="spacingAndGlyphs">1,902 mg</text>
<text x="137.95 142.02 146.09 150.17 154.24 158.31 162.39 166.46 170.54 174.61 178.68 182.76 186.83" y="657.26" font-size="17.00">.............</text>
<text x="11.62" y="678.28" font-size="17.00" textLength="68.35" lengthAdjust="spacingAndGlyphs">GLYCINE</text>
<text x="195.68" y="678.28" font-size="17.00" textLength="67.97" lengthAdjust="spacingAndGlyphs">3,716 mg</text>
<text x="80.45 84.54 88.63 92.72 96.81 100.91 105.00 109.09 113.18 117.27 121.36 125.46 129.55 133.64 137.73 141.82 145.91 150.00 154.10 158.19 162.28 166.37 170.46 174.55 178.65 182.74 186.83" y="678.28" font-size="17.00">...........................</text>
<text x="11.13" y="699.30" font-size="17.00" textLength="76.53" lengthAdjust="spacingAndGlyphs">HISTIDINE</text>
<text x="204.65" y="699.30" font-size="17.00" textLength="59.09" lengthAdjust="spacingAndGlyphs">140 mg</text>
<text x="89.45 93.56 97.68 101.79 105.90 110.02 114.13 118.25 122.36 126.47 130.59 134.70 138.82 142.93 147.05 151.16 155.27 159.39 163.50 167.62 171.73 175.84 179.96 184.07 188.19 192.30 196.41 200.53" y="699.30" font-size="17.00">............................</text>
<text x="11.12" y="720.32" font-size="17.00" textLength="133.16" lengthAdjust="spacingAndGlyphs">HYDROXYLYSINE</text>
<text x="209.77" y="720.32" font-size="17.00" textLength="53.87" lengthAdjust="spacingAndGlyphs">177 mg</text>
<text x="147.45 151.63 155.82 160.00 164.19 168.37 172.55 176.74 180.92 185.11 189.29 193.48 197.66 201.84 206.03" y="720.32" font-size="17.00">...............</text>
<text x="11.12" y="741.34" font-size="17.00" textLength="145.95" lengthAdjust="spacingAndGlyphs">HYDROXYPROLINE</text>
<text x="194.16" y="741.34" font-size="17.00" textLength="69.51" lengthAdjust="spacingAndGlyphs">2,141 mg</text>
<text x="161.15 165.43 169.71 173.99 178.27 182.55 186.83" y="741.34" font-size="17.00">.......</text>
<text x="10.92" y="762.36" font-size="17.00" textLength="110.86" lengthAdjust="spacingAndGlyphs">ISOLEUCINE*^</text>
<text x="207.15" y="762.36" font-size="17.00" textLength="56.55" lengthAdjust="spacingAndGlyphs">274 mg</text>
<text x="125.65 129.81 133.97 138.13 142.29 146.45 150.61 154.77 158.93 163.09 167.25 171.41 175.57 179.73 183.89 188.05 192.21 196.37 200.53" y="762.36" font-size="17.00">...................</text>
<text x="11.06" y="783.38" font-size="17.00" textLength="84.72" lengthAdjust="spacingAndGlyphs">LEUCINE*^</text>
<text x="206.61" y="783.38" font-size="17.00" textLength="57.09" lengthAdjust="spacingAndGlyphs">526 mg</text>
<text x="99.05 103.28 107.50 111.73 115.96 120.19 124.42 128.65 132.87 137.10 141.33 145.56 149.79 154.02 158.25 162.47 166.70 170.93 175.16 179.39 183.62 187.84 192.07 196.30 200.53" y="783.38" font-size="17.00">.........................</text>
<text x="11.10" y="804.40" font-size="17.00" textLength="62.45" lengthAdjust="spacingAndGlyphs">LYSINE*</text>
<text x="205.51" y="804.40" font-size="17.00" textLength="58.21" lengthAdjust="spacingAndGlyphs">698 mg</text>
<text x="76.95 81.07 85.19 89.31 93.43 97.54 101.66 105.78 109.90 114.02 118.14 122.26 126.38 130.50 134.62 138.74 142.86 146.98 151.10 155.22 159.34 163.45 167.57 171.69 175.81 179.93 184.05 188.17 192.29 196.41 200.53" y="804.40" font-size="17.00">...............................</text>
<text x="11.07" y="825.42" font-size="17.00" textLength="108.18" lengthAdjust="spacingAndGlyphs">METHIONINE*</text>
<text x="207.31" y="825.42" font-size="17.00" textLength="56.38" lengthAdjust="spacingAndGlyphs">129 mg</text>
<text x="120.65 124.85 129.06 133.26 137.46 141.67 145.87 150.08 154.28 158.49 162.69 166.89 171.10 175.30 179.51 183.71 187.92 192.12 196.32 200.53" y="825.42" font-size="17.00">....................</text>
<text x="11.08" y="846.44" font-size="17.00" textLength="139.57" lengthAdjust="spacingAndGlyphs">PHENYLALANINE*</text>
<text x="208.37" y="846.44" font-size="17.00" textLength="55.30" lengthAdjust="spacingAndGlyphs">332 mg</text>
<text x="151.05 155.17 159.29 163.42 167.54 171.66 175.79 179.91 184.04 188.16 192.28 196.41 200.53" y="846.44" font-size="17.00">.............</text>
<text x="11.14" y="867.46" font-size="17.00" textLength="67.52" lengthAdjust="spacingAndGlyphs">PROLINE</text>
<text x="193.15" y="867.46" font-size="17.00" textLength="70.54" lengthAdjust="spacingAndGlyphs">2,433 mg</text>
<text x="81.05 85.28 89.51 93.74 97.97 102.20 106.44 110.67 114.90 119.13 123.36 127.59 131.82 136.05 140.29 144.52 148.75 152.98 157.21 161.44 165.67 169.90 174.14 178.37 182.60 186.83" y="867.46" font-size="17.00">..........................</text>
<text x="11.74" y="888.48" font-size="17.00" textLength="54.49" lengthAdjust="spacingAndGlyphs">SERINE</text>
<text x="205.70" y="888.48" font-size="17.00" textLength="58.02" lengthAdjust="spacingAndGlyphs">548 mg</text>
<text x="68.95 73.06 77.17 81.28 85.40 89.51 93.62 97.73 101.84 105.96 110.07 114.18 118.29 122.40 126.51 130.63 134.74 138.85 142.96 147.07 151.19 155.30 159.41 163.52 167.63 171.75 175.86 179.97 184.08 188.19 192.31 196.42 200.53" y="888.48" font-size="17.00">.................................</text>
<text x="12.05" y="909.50" font-size="17.00" textLength="97.59" lengthAdjust="spacingAndGlyphs">THREONINE*</text>
<text x="207.96" y="909.50" font-size="17.00" textLength="55.71" lengthAdjust="spacingAndGlyphs">338 mg</text>
<text x="111.95 116.17 120.38 124.60 128.82 133.04 137.26 141.47 145.69 149.91 154.13 158.35 162.57 166.78 171.00 175.22 179.44 183.66 187.87 192.09 196.31 200.53" y="909.50" font-size="17.00">......................</text>
<text x="12.07" y="930.52" font-size="17.00" textLength="76.07" lengthAdjust="spacingAndGlyphs">TYROSINE</text>
<text x="215.52" y="930.52" font-size="17.00" textLength="48.20" lengthAdjust="spacingAndGlyphs">68 mg</text>
<text x="89.45 93.59 97.73 101.87 106.01 110.15 114.29 118.43 122.57 126.71 130.86 135.00 139.14 143.28 147.42 151.56 155.70 159.84 163.98 168.12 172.26 176.40 180.54 184.68 188.83 192.97 197.11 201.25 205.39 209.53" y="930.52" font-size="17.00">..............................</text>
<text x="12.33" y="951.54" font-size="17.00" textLength="73.05" lengthAdjust="spacingAndGlyphs">VALINE*^</text>
<text x="206.31" y="951.54" font-size="17.00" textLength="57.40" lengthAdjust="spacingAndGlyphs">434 mg</text>
<text x="89.45 93.56 97.68 101.79 105.90 110.02 114.13 118.25 122.36 126.47 130.59 134.70 138.82 142.93 147.05 151.16 155.27 159.39 163.50 167.62 171.73 175.84 179.96 184.07 188.19 192.30 196.41 200.53" y="951.54" font-size="17.00">............................</text>
<rect x="11.20" y="961.80" width="252.70" height="2.30" fill="#0072bc"/>
<text x="11.78" y="980.50" font-size="13.40" textLength="141.32" lengthAdjust="spacingAndGlyphs">*Essential Amino Acids</text>
<text x="11.93" y="996.90" font-size="13.40" textLength="183.26" lengthAdjust="spacingAndGlyphs">^Branched Chain Amino Acids</text>
<rect x="853.80" y="83.80" width="163.00" height="291.70" rx="5.00" fill="#b24623"/>
<path d="M855.60 112.70 H1015.00 V370.50 Q1015.00 373.70 1011.80 373.70 H858.80 Q855.60 373.70 855.60 370.50 Z" fill="#fff"/>
<text x="860.89" y="96.75" font-size="11.60" textLength="148.39" lengthAdjust="spacingAndGlyphs" font-weight="bold" fill="#ffffff" stroke="#fff" stroke-width="0.3">TYPICAL AMINO ACID PROFILE</text>
<text x="860.57" y="107.20" font-size="9.00" textLength="53.25" lengthAdjust="spacingAndGlyphs" font-weight="bold" fill="#ffffff">(Per Serving)</text>
<text x="861.48" y="124.80" font-size="9.50" textLength="38.66" lengthAdjust="spacingAndGlyphs" font-weight="bold">ALANINE</text>
<text x="977.90" y="124.80" font-size="9.50" textLength="32.12" lengthAdjust="spacingAndGlyphs" font-weight="bold">815 mg</text>
<text x="903.23 907.53 911.82 916.11 920.41 924.70 928.99 933.29 937.58 941.87 946.17 950.46 954.75 959.05 963.34 967.63 971.93" y="124.80" font-size="9.50">.................</text>
<text x="861.48" y="138.34" font-size="9.50" textLength="42.35" lengthAdjust="spacingAndGlyphs" font-weight="bold">ARGININE</text>
<text x="976.95" y="138.34" font-size="9.50" textLength="33.09" lengthAdjust="spacingAndGlyphs" font-weight="bold">699 mg</text>
<text x="909.63 914.08 918.53 922.98 927.43 931.88 936.33 940.78 945.23 949.68 954.13 958.58 963.03 967.48 971.93" y="138.34" font-size="9.50">...............</text>
<text x="861.49" y="151.88" font-size="9.50" textLength="66.77" lengthAdjust="spacingAndGlyphs" font-weight="bold">ASPARTIC ACID</text>
<text x="978.52" y="151.88" font-size="9.50" textLength="31.49" lengthAdjust="spacingAndGlyphs" font-weight="bold">513 mg</text>
<text x="930.73 934.85 938.97 943.09 947.21 951.33 955.45 959.57 963.69 967.81 971.93" y="151.88" font-size="9.50">...........</text>
<text x="861.34" y="165.42" font-size="9.50" textLength="70.94" lengthAdjust="spacingAndGlyphs" font-weight="bold">GLUTAMIC ACID</text>
<text x="977.88" y="165.42" font-size="9.50" textLength="32.15" lengthAdjust="spacingAndGlyphs" font-weight="bold">917 mg</text>
<text x="935.23 939.31 943.39 947.46 951.54 955.62 959.70 963.77 967.85 971.93" y="165.42" font-size="9.50">..........</text>
<text x="861.34" y="178.96" font-size="9.50" textLength="38.49" lengthAdjust="spacingAndGlyphs" font-weight="bold">GLYCINE</text>
<text x="969.37" y="178.96" font-size="9.50" textLength="40.66" lengthAdjust="spacingAndGlyphs" font-weight="bold">2,055 mg</text>
<text x="904.13 908.43 912.72 917.01 921.30 925.60 929.89 934.18 938.47 942.77 947.06 951.35 955.64 959.94 964.23" y="178.96" font-size="9.50">...............</text>
<text x="861.11" y="192.50" font-size="9.50" textLength="43.33" lengthAdjust="spacingAndGlyphs" font-weight="bold">HISTIDINE</text>
<text x="982.66" y="192.50" font-size="9.50" textLength="27.38" lengthAdjust="spacingAndGlyphs" font-weight="bold">46 mg</text>
<text x="905.63 910.06 914.48 918.91 923.33 927.76 932.18 936.61 941.03 945.46 949.88 954.30 958.73 963.15 967.58 972.00 976.43" y="192.50" font-size="9.50">.................</text>
<text x="861.12" y="206.04" font-size="9.50" textLength="81.42" lengthAdjust="spacingAndGlyphs" font-weight="bold">HYDROXYPROLINE</text>
<text x="970.01" y="206.04" font-size="9.50" textLength="40.01" lengthAdjust="spacingAndGlyphs" font-weight="bold">1,075 mg</text>
<text x="943.83 948.51 953.19 957.87 962.55 967.23" y="206.04" font-size="9.50">......</text>
<text x="861.11" y="219.58" font-size="9.50" textLength="62.99" lengthAdjust="spacingAndGlyphs" font-weight="bold">ISOLEUCINE*^</text>
<text x="978.22" y="219.58" font-size="9.50" textLength="31.80" lengthAdjust="spacingAndGlyphs" font-weight="bold">135 mg</text>
<text x="926.13 930.30 934.46 938.62 942.79 946.95 951.11 955.28 959.44 963.60 967.76 971.93" y="219.58" font-size="9.50">............</text>
<text x="861.08" y="233.12" font-size="9.50" textLength="49.62" lengthAdjust="spacingAndGlyphs" font-weight="bold">LEUCINE*^</text>
<text x="977.88" y="233.12" font-size="9.50" textLength="32.15" lengthAdjust="spacingAndGlyphs" font-weight="bold">253 mg</text>
<text x="912.73 916.96 921.19 925.42 929.65 933.87 938.10 942.33 946.56 950.79 955.02 959.24 963.47 967.70 971.93" y="233.12" font-size="9.50">...............</text>
<text x="861.12" y="246.66" font-size="9.50" textLength="34.79" lengthAdjust="spacingAndGlyphs" font-weight="bold">LYSINE*</text>
<text x="977.99" y="246.66" font-size="9.50" textLength="32.04" lengthAdjust="spacingAndGlyphs" font-weight="bold">329 mg</text>
<text x="899.53 903.79 908.05 912.31 916.57 920.83 925.08 929.34 933.60 937.86 942.12 946.38 950.64 954.89 959.15 963.41 967.67 971.93" y="246.66" font-size="9.50">..................</text>
<text x="861.10" y="260.20" font-size="9.50" textLength="59.81" lengthAdjust="spacingAndGlyphs" font-weight="bold">METHIONINE*</text>
<text x="984.52" y="260.20" font-size="9.50" textLength="25.47" lengthAdjust="spacingAndGlyphs" font-weight="bold">71 mg</text>
<text x="922.43 926.62 930.80 934.99 939.17 943.36 947.54 951.73 955.92 960.10 964.29 968.47 972.66 976.84 981.03" y="260.20" font-size="9.50">...............</text>
<text x="861.12" y="273.74" font-size="9.50" textLength="77.49" lengthAdjust="spacingAndGlyphs" font-weight="bold">PHENYLALANINE*</text>
<text x="977.61" y="273.74" font-size="9.50" textLength="32.42" lengthAdjust="spacingAndGlyphs" font-weight="bold">163 mg</text>
<text x="943.83 947.85 951.86 955.87 959.89 963.90 967.91 971.93" y="273.74" font-size="9.50">........</text>
<text x="861.13" y="287.28" font-size="9.50" textLength="38.11" lengthAdjust="spacingAndGlyphs" font-weight="bold">PROLINE</text>
<text x="970.92" y="287.28" font-size="9.50" textLength="39.09" lengthAdjust="spacingAndGlyphs" font-weight="bold">1,221 mg</text>
<text x="903.13 907.51 911.89 916.27 920.65 925.03 929.41 933.79 938.17 942.55 946.93 951.31 955.69 960.07 964.45 968.83" y="287.28" font-size="9.50">................</text>
<text x="861.46" y="300.82" font-size="9.50" textLength="31.07" lengthAdjust="spacingAndGlyphs" font-weight="bold">SERINE</text>
<text x="976.97" y="300.82" font-size="9.50" textLength="33.07" lengthAdjust="spacingAndGlyphs" font-weight="bold">296 mg</text>
<text x="895.63 899.87 904.11 908.35 912.59 916.83 921.06 925.30 929.54 933.78 938.02 942.26 946.50 950.73 954.97 959.21 963.45 967.69 971.93" y="300.82" font-size="9.50">...................</text>
<text x="861.60" y="314.36" font-size="9.50" textLength="54.71" lengthAdjust="spacingAndGlyphs" font-weight="bold">THREONINE*</text>
<text x="977.61" y="314.36" font-size="9.50" textLength="32.42" lengthAdjust="spacingAndGlyphs" font-weight="bold">163 mg</text>
<text x="921.83 926.01 930.18 934.36 938.53 942.71 946.88 951.05 955.23 959.40 963.58 967.75 971.93" y="314.36" font-size="9.50">.............</text>
<text x="861.61" y="327.90" font-size="9.50" textLength="43.12" lengthAdjust="spacingAndGlyphs" font-weight="bold">TYROSINE</text>
<text x="984.63" y="327.90" font-size="9.50" textLength="25.36" lengthAdjust="spacingAndGlyphs" font-weight="bold">51 mg</text>
<text x="907.13 911.48 915.83 920.17 924.52 928.87 933.21 937.56 941.91 946.25 950.60 954.95 959.29 963.64 967.99 972.33 976.68 981.03" y="327.90" font-size="9.50">..................</text>
<text x="861.64" y="341.44" font-size="9.50" textLength="42.06" lengthAdjust="spacingAndGlyphs" font-weight="bold">VALINE*^</text>
<text x="977.61" y="341.44" font-size="9.50" textLength="32.42" lengthAdjust="spacingAndGlyphs" font-weight="bold">199 mg</text>
<text x="908.73 912.95 917.16 921.37 925.58 929.80 934.01 938.22 942.44 946.65 950.86 955.08 959.29 963.50 967.71 971.93" y="341.44" font-size="9.50">................</text>
<rect x="862.00" y="346.30" width="147.30" height="1.40" fill="#b24623"/>
<text x="861.45" y="359.70" font-size="9.80" textLength="96.29" lengthAdjust="spacingAndGlyphs">*Essential Amino Acids</text>
<text x="861.55" y="370.40" font-size="9.80" textLength="125.38" lengthAdjust="spacingAndGlyphs">^Branched Chain Amino Acids</text>
<rect x="777.90" y="598.80" width="244.00" height="413.30" rx="7.00" fill="#f44816"/>
<path d="M780.20 643.30 H1019.60 V1005.10 Q1019.60 1009.80 1014.90 1009.80 H784.90 Q780.20 1009.80 780.20 1005.10 Z" fill="#fff"/>
<text x="787.54" y="617.90" font-size="15.40" textLength="221.73" lengthAdjust="spacingAndGlyphs" font-weight="bold" fill="#ffffff" stroke="#fff" stroke-width="0.4">TYPICAL AMINO ACID PROFILE</text>
<text x="786.92" y="634.60" font-size="14.60" textLength="97.61" lengthAdjust="spacingAndGlyphs" font-weight="bold" fill="#ffffff" stroke="#fff" stroke-width="0.4">(Per Serving)</text>
<text x="787.27" y="663.60" font-size="15.00" textLength="61.45" lengthAdjust="spacingAndGlyphs">ALANINE</text>
<text x="949.11" y="663.60" font-size="15.00" textLength="65.19" lengthAdjust="spacingAndGlyphs">2,092 mg</text>
<text x="850.53 854.56 858.60 862.63 866.66 870.70 874.73 878.77 882.80 886.83 890.87 894.90 898.93 902.97 907.00 911.03 915.07 919.10 923.13 927.17 931.20 935.24 939.27 943.30" y="663.60" font-size="15.00">........................</text>
<text x="787.27" y="682.44" font-size="15.00" textLength="68.94" lengthAdjust="spacingAndGlyphs">ARGININE</text>
<text x="948.70" y="682.44" font-size="15.00" textLength="65.61" lengthAdjust="spacingAndGlyphs">1,160 mg</text>
<text x="857.93 862.00 866.06 870.13 874.19 878.26 882.32 886.39 890.45 894.52 898.58 902.65 906.71 910.78 914.84 918.91 922.98 927.04 931.11 935.17 939.24 943.30" y="682.44" font-size="15.00">......................</text>
<text x="787.27" y="701.28" font-size="15.00" textLength="105.38" lengthAdjust="spacingAndGlyphs">ASPARTIC ACID</text>
<text x="962.27" y="701.28" font-size="15.00" textLength="52.04" lengthAdjust="spacingAndGlyphs">908 mg</text>
<text x="896.43 900.47 904.51 908.54 912.58 916.62 920.66 924.70 928.74 932.77 936.81 940.85 944.89 948.93 952.96 957.00" y="701.28" font-size="15.00">................</text>
<text x="786.59" y="720.12" font-size="15.00" textLength="110.08" lengthAdjust="spacingAndGlyphs">GLUTAMIC ACID</text>
<text x="948.70" y="720.12" font-size="15.00" textLength="65.61" lengthAdjust="spacingAndGlyphs">1,694 mg</text>
<text x="900.13 904.06 907.98 911.90 915.83 919.75 923.68 927.60 931.53 935.45 939.38 943.30" y="720.12" font-size="15.00">............</text>
<text x="786.62" y="738.96" font-size="15.00" textLength="59.67" lengthAdjust="spacingAndGlyphs">GLYCINE</text>
<text x="949.28" y="738.96" font-size="15.00" textLength="65.03" lengthAdjust="spacingAndGlyphs">5,035 mg</text>
<text x="850.53 854.56 858.60 862.63 866.66 870.70 874.73 878.77 882.80 886.83 890.87 894.90 898.93 902.97 907.00 911.03 915.07 919.10 923.13 927.17 931.20 935.24 939.27 943.30" y="738.96" font-size="15.00">........................</text>
<text x="786.09" y="757.80" font-size="15.00" textLength="73.15" lengthAdjust="spacingAndGlyphs">HISTIDINE</text>
<text x="970.61" y="757.80" font-size="15.00" textLength="43.70" lengthAdjust="spacingAndGlyphs">24 mg</text>
<text x="864.13 868.31 872.49 876.66 880.84 885.02 889.20 893.38 897.55 901.73 905.91 910.09 914.27 918.44 922.62 926.80 930.98 935.16 939.33 943.51 947.69 951.87 956.05 960.22 964.40" y="757.80" font-size="15.00">.........................</text>
<text x="786.12" y="776.64" font-size="15.00" textLength="63.41" lengthAdjust="spacingAndGlyphs">PROLINE</text>
<text x="949.31" y="776.64" font-size="15.00" textLength="65.00" lengthAdjust="spacingAndGlyphs">3,025 mg</text>
<text x="848.53 852.65 856.77 860.89 865.01 869.13 873.25 877.37 881.49 885.61 889.74 893.86 897.98 902.10 906.22 910.34 914.46 918.58 922.70 926.82 930.94 935.06 939.18 943.30" y="776.64" font-size="15.00">........................</text>
<text x="786.15" y="795.48" font-size="15.00" textLength="130.35" lengthAdjust="spacingAndGlyphs">HYDROXYPROLINE</text>
<text x="948.70" y="795.48" font-size="15.00" textLength="65.61" lengthAdjust="spacingAndGlyphs">1,646 mg</text>
<text x="917.43 921.74 926.05 930.37 934.68 938.99 943.30" y="795.48" font-size="15.00">.......</text>
<text x="785.94" y="814.32" font-size="15.00" textLength="101.93" lengthAdjust="spacingAndGlyphs">ISOLEUCINE*^</text>
<text x="962.21" y="814.32" font-size="15.00" textLength="52.09" lengthAdjust="spacingAndGlyphs">233 mg</text>
<text x="892.63 896.65 900.68 904.70 908.72 912.75 916.77 920.79 924.82 928.84 932.86 936.89 940.91 944.93 948.96 952.98 957.00" y="814.32" font-size="15.00">.................</text>
<text x="786.07" y="833.16" font-size="15.00" textLength="77.80" lengthAdjust="spacingAndGlyphs">LEUCINE*^</text>
<text x="961.94" y="833.16" font-size="15.00" textLength="52.37" lengthAdjust="spacingAndGlyphs">443 mg</text>
<text x="866.63 870.74 874.85 878.95 883.06 887.17 891.28 895.39 899.49 903.60 907.71 911.82 915.92 920.03 924.14 928.25 932.36 936.46 940.57 944.68 948.79 952.89 957.00" y="833.16" font-size="15.00">.......................</text>
<text x="786.16" y="852.00" font-size="15.00" textLength="54.75" lengthAdjust="spacingAndGlyphs">LYSINE*</text>
<text x="962.64" y="852.00" font-size="15.00" textLength="51.65" lengthAdjust="spacingAndGlyphs">421 mg</text>
<text x="845.53 849.66 853.79 857.92 862.04 866.17 870.30 874.43 878.56 882.69 886.82 890.94 895.07 899.20 903.33 907.46 911.59 915.72 919.84 923.97 928.10 932.23 936.36 940.49 944.62 948.74 952.87 957.00" y="852.00" font-size="15.00">............................</text>
<text x="786.08" y="870.84" font-size="15.00" textLength="99.56" lengthAdjust="spacingAndGlyphs">METHIONINE*</text>
<text x="961.80" y="870.84" font-size="15.00" textLength="52.51" lengthAdjust="spacingAndGlyphs">103 mg</text>
<text x="887.63 891.71 895.79 899.87 903.95 908.03 912.11 916.20 920.28 924.36 928.44 932.52 936.60 940.68 944.76 948.84 952.92 957.00" y="870.84" font-size="15.00">..................</text>
<text x="786.10" y="889.68" font-size="15.00" textLength="126.73" lengthAdjust="spacingAndGlyphs">PHENYLALANINE*</text>
<text x="962.21" y="889.68" font-size="15.00" textLength="52.09" lengthAdjust="spacingAndGlyphs">261 mg</text>
<text x="913.73 917.66 921.60 925.53 929.47 933.40 937.33 941.27 945.20 949.13 953.07 957.00" y="889.68" font-size="15.00">............</text>
<text x="786.66" y="908.52" font-size="15.00" textLength="52.14" lengthAdjust="spacingAndGlyphs">SERINE</text>
<text x="962.21" y="908.52" font-size="15.00" textLength="52.10" lengthAdjust="spacingAndGlyphs">687 mg</text>
<text x="843.03 847.10 851.17 855.24 859.31 863.38 867.45 871.52 875.59 879.66 883.73 887.80 891.88 895.95 900.02 904.09 908.16 912.23 916.30 920.37 924.44 928.51 932.58 936.65 940.72 944.79 948.86 952.93 957.00" y="908.52" font-size="15.00">.............................</text>
<text x="786.97" y="927.36" font-size="15.00" textLength="91.96" lengthAdjust="spacingAndGlyphs">THREONINE*</text>
<text x="962.41" y="927.36" font-size="15.00" textLength="51.90" lengthAdjust="spacingAndGlyphs">381 mg</text>
<text x="879.03 883.13 887.24 891.34 895.45 899.55 903.65 907.76 911.86 915.96 920.07 924.17 928.28 932.38 936.48 940.59 944.69 948.79 952.90 957.00" y="927.36" font-size="15.00">....................</text>
<text x="786.99" y="946.20" font-size="15.00" textLength="70.40" lengthAdjust="spacingAndGlyphs">TYROSINE</text>
<text x="970.20" y="946.20" font-size="15.00" textLength="44.12" lengthAdjust="spacingAndGlyphs">22 mg</text>
<text x="856.63 860.78 864.92 869.07 873.21 877.36 881.50 885.65 889.79 893.94 898.08 902.23 906.37 910.52 914.66 918.81 922.95 927.10 931.24 935.39 939.53 943.68 947.82 951.97 956.11 960.26 964.40" y="946.20" font-size="15.00">...........................</text>
<text x="787.24" y="965.04" font-size="15.00" textLength="64.74" lengthAdjust="spacingAndGlyphs">VALINE*^</text>
<text x="962.64" y="965.04" font-size="15.00" textLength="51.65" lengthAdjust="spacingAndGlyphs">458 mg</text>
<text x="854.23 858.34 862.45 866.56 870.67 874.78 878.90 883.01 887.12 891.23 895.34 899.45 903.56 907.67 911.78 915.89 920.00 924.12 928.23 932.34 936.45 940.56 944.67 948.78 952.89 957.00" y="965.04" font-size="15.00">..........................</text>
<rect x="786.90" y="972.40" width="226.70" height="2.00" fill="#f44816"/>
<text x="786.80" y="989.80" font-size="12.50" textLength="126.24" lengthAdjust="spacingAndGlyphs">*Essential Amino Acids</text>
<text x="786.94" y="1004.20" font-size="12.50" textLength="165.10" lengthAdjust="spacingAndGlyphs">^Branched Chain Amino Acids</text>
</svg>
</body></html>
